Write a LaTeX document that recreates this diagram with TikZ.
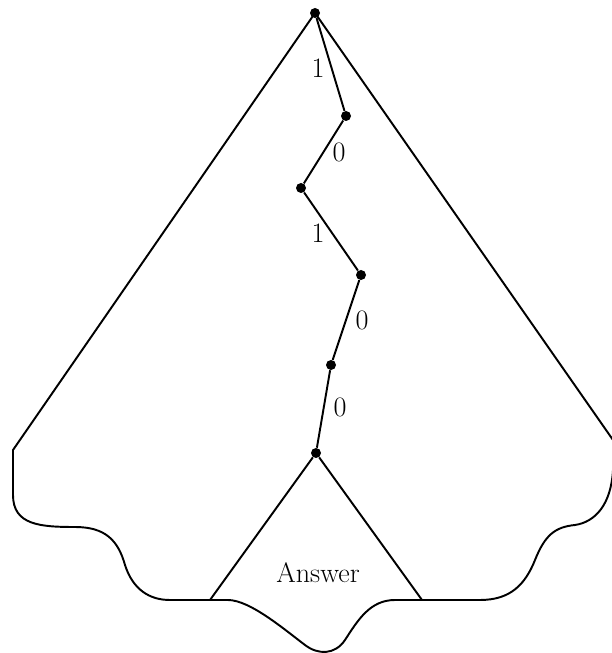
\documentclass[tikz,border=0pt]{standalone}
\usepackage{tikz}
\usetikzlibrary{positioning}

\begin{document}
\begin{tikzpicture}[
    dot/.style={circle, fill, inner sep=0pt, minimum size=0.2cm},
    edge/.style={line width=1.1pt},
    bit/.style={font=\fontsize{16}{19}\selectfont, inner sep=0pt},
]
    \useasboundingbox (0,0) rectangle (12.22,13.06);

    % path of bits down the tree
    \node[dot] at (6.30,12.80) (root) {};
    \node[dot] at (6.92,10.74) (b1) {};
    \node[dot] at (6.02,9.30) (b2) {};
    \node[dot] at (7.22,7.56) (b3) {};
    \node[dot] at (6.62,5.76) (b4) {};
    \node[dot] at (6.32,4.00) (b5) {};

    \draw[edge] (root) -- node[bit, xshift=-0.25cm, yshift=-0.07cm] {1} (b1);
    \draw[edge] (b1) -- node[bit, xshift=0.31cm] {0} (b2);
    \draw[edge] (b2) -- node[bit, xshift=-0.26cm, yshift=-0.03cm] {1} (b3);
    \draw[edge] (b3) -- node[bit, xshift=0.32cm] {0} (b4);
    \draw[edge] (b4) -- node[bit, xshift=0.33cm, yshift=0.04cm] {0} (b5);

    % outline of the whole tree
    \coordinate (lcorner) at (0.26,4.06);
    \coordinate (rcorner) at (12.26,4.26);
    \coordinate (ansL) at (4.20,1.06);
    \coordinate (ansR) at (8.44,1.06);

    \draw[edge, line join=round] (root.center) -- (lcorner) -- (0.26,3.16)
        .. controls (0.26,2.56) and (0.80,2.52) .. (1.50,2.52)
        .. controls (2.10,2.52) and (2.36,2.26) .. (2.50,1.76)
        .. controls (2.66,1.26) and (3.00,1.06) .. (3.40,1.06)
        -- (ansL) -- (4.56,1.06)
        .. controls (5.00,1.06) and (5.70,0.46) .. (6.10,0.16)
        .. controls (6.36,-0.04) and (6.70,-0.04) .. (6.90,0.26)
        .. controls (7.16,0.66) and (7.40,1.06) .. (7.90,1.06)
        -- (ansR) -- (9.60,1.06)
        .. controls (10.20,1.06) and (10.50,1.36) .. (10.70,1.86)
        .. controls (10.90,2.36) and (11.10,2.52) .. (11.50,2.56)
        .. controls (11.90,2.62) and (12.22,2.96) .. (12.26,3.66)
        -- (rcorner) -- (root.center);

    % answer subtree
    \node[bit] at (6.36,1.60) (answer) {Answer};
    \draw[edge] (b5) -- (ansL);
    \draw[edge] (b5) -- (ansR);
\end{tikzpicture}
\end{document}
